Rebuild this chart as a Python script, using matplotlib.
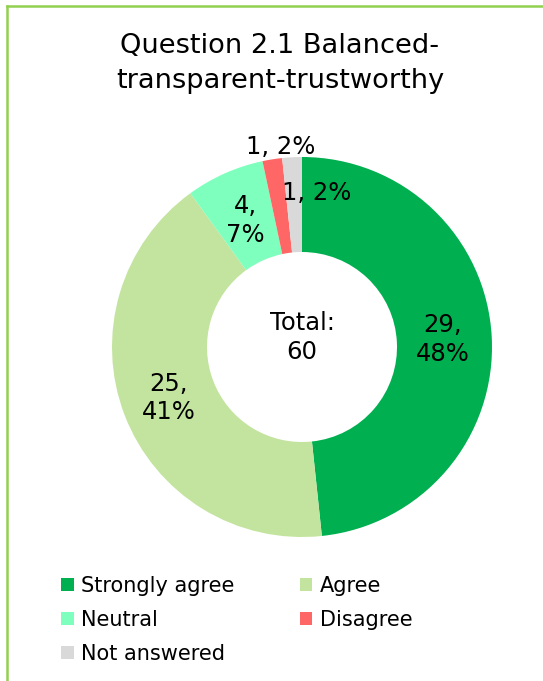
import matplotlib
matplotlib.use("Agg")
import matplotlib.pyplot as plt
from matplotlib.patches import Patch
from matplotlib.lines import Line2D
import numpy as np

plt.rcParams['font.family'] = ['DejaVu Sans']

# Survey responses
categories = ["Strongly agree", "Agree", "Neutral", "Disagree", "Not answered"]
counts = [29, 25, 4, 1, 1]
pct_labels = ["48%", "41%", "7%", "2%", "2%"]
colors = ["#00B050", "#C3E49E", "#7EFFBD", "#FF6666", "#D9D9D9"]
title = "Question 2.1 Balanced-\ntransparent-trustworthy"
total = sum(counts)

W, H = 543, 681
fig = plt.figure(figsize=(W / 100, H / 100), dpi=100)

# Frame lines (top and left)
fig.add_artist(Line2D([7 / W, 1.0], [1 - 5.5 / H, 1 - 5.5 / H], color="#92D050", lw=1.8))
fig.add_artist(Line2D([7 / W, 7 / W], [0, 1 - 5.5 / H], color="#92D050", lw=1.8))

# Doughnut axes centred at (302, 347) px, outer radius 190 px
cx, cy, R = 302, 347, 190
half = 200
ax = fig.add_axes([(cx - half) / W, (H - cy - half) / H, 2 * half / W, 2 * half / H])
wedges, _ = ax.pie(counts, colors=colors, startangle=90, counterclock=False,
                   radius=1.0, wedgeprops=dict(width=0.5, linewidth=0))
lim = half / R
ax.set_xlim(-lim, lim)
ax.set_ylim(-lim, lim)
ax.set_aspect("equal")
ax.axis("off")

# Data labels: radius and angle offset (degrees) for each slice
label_r = [0.74, 0.75, 0.73, 1.06, 0.815]
label_da = [0, 0, 0, -3, -8.6]
label_multi = [True, True, True, False, False]
for w, n, p, r, da, multi in zip(wedges, counts, pct_labels, label_r, label_da, label_multi):
    ang = np.deg2rad((w.theta1 + w.theta2) / 2 + da)
    txt = f"{n},\n{p}" if multi else f"{n}, {p}"
    ax.text(r * np.cos(ang), r * np.sin(ang), txt, ha="center", va="center",
            fontsize=17.5, linespacing=1.25, color="#000000")

ax.text(0, 0.05, f"Total:\n{total}", ha="center", va="center", fontsize=17.5,
        linespacing=1.3, color="#000000")

fig.text(280 / W, 1 - 64 / H, title, ha="center", va="center", fontsize=19.6,
         linespacing=1.45, color="#000000")

# Legend laid out row by row across two columns
order = [0, 2, 4, 1, 3]
handles = [Patch(facecolor=colors[i], edgecolor="none", label=categories[i]) for i in order]
fig.legend(handles=handles, ncol=2, loc="upper left",
           bbox_to_anchor=(61 / W, 1 - 576 / H), frameon=False,
           fontsize=15, handlelength=0.6, handleheight=0.6, handletextpad=0.35,
           columnspacing=3.15, labelspacing=0.66, borderaxespad=0, borderpad=0)

fig.savefig("out.png", dpi=100)
